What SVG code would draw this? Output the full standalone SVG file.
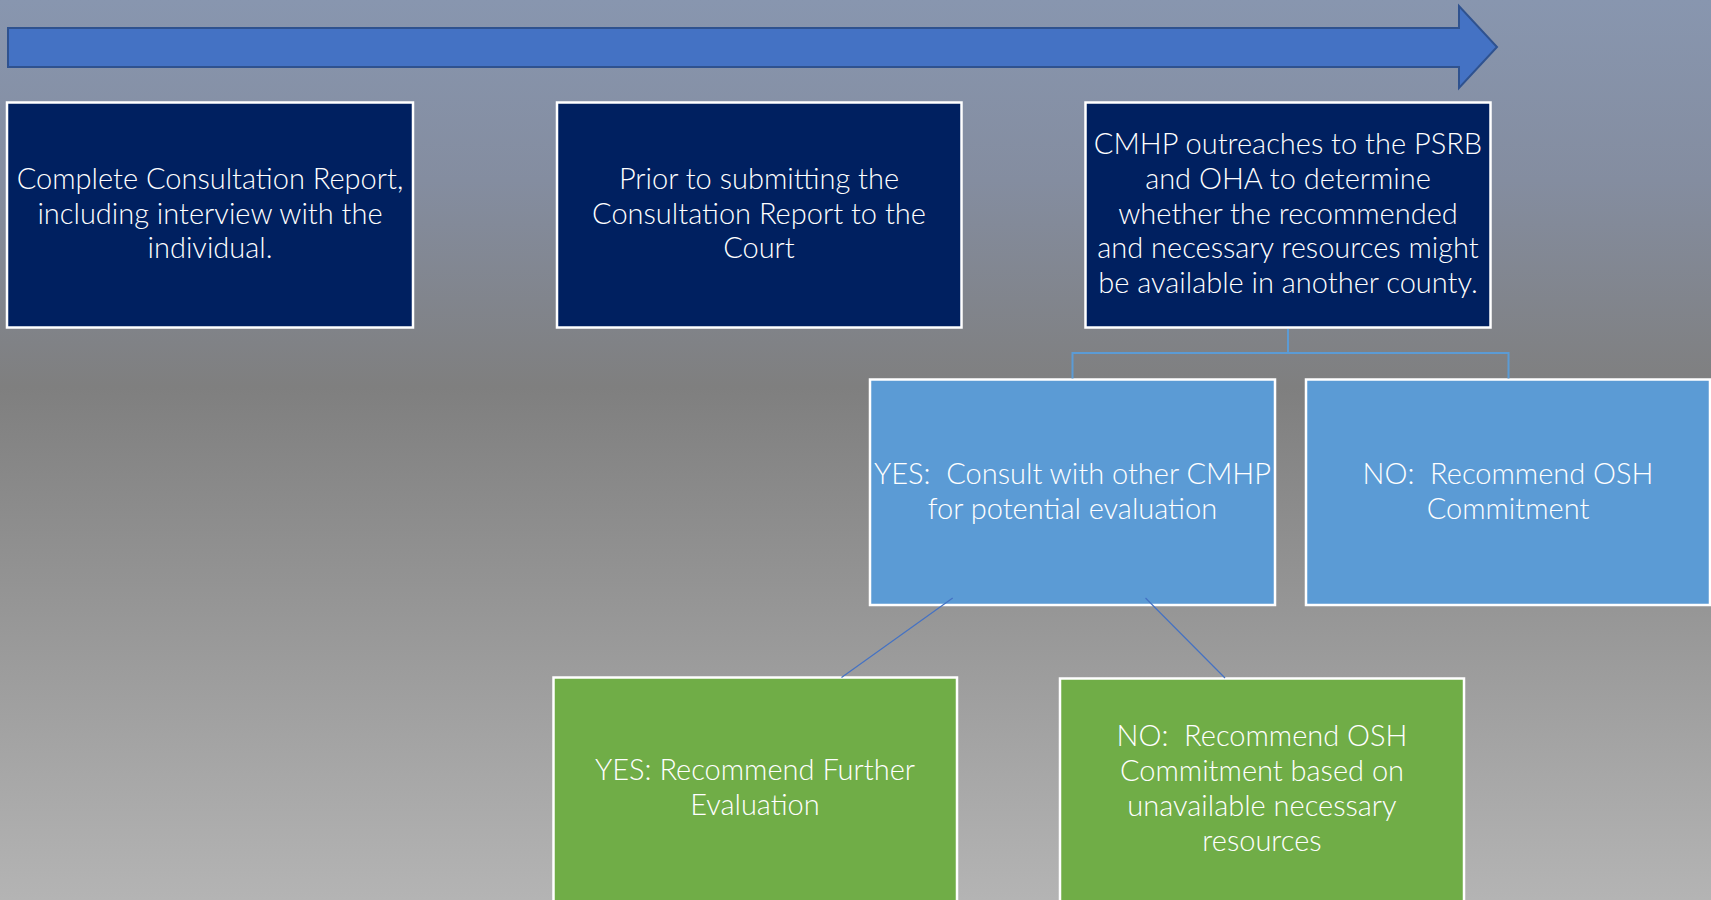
<svg xmlns="http://www.w3.org/2000/svg" width="1711" height="900" viewBox="0 0 1711 900">
<defs>
<linearGradient id="bg" x1="0" y1="0" x2="0" y2="1">
<stop offset="0" stop-color="#8896AF"/>
<stop offset="0.2" stop-color="#848DA0"/>
<stop offset="0.43" stop-color="#7F7F7F"/>
<stop offset="1" stop-color="#B4B4B4"/>
</linearGradient>
</defs>
<style>
.box{stroke:#FFFFFF;stroke-width:2.5}
.navy{fill:#002060}
.blue{fill:#5B9BD5}
.green{fill:#70AD47}
.t{font-family:Lato,"Liberation Sans",sans-serif;font-weight:300;font-size:29px;fill:#FFFFFF;text-anchor:middle;white-space:pre}
.tree{fill:none;stroke:#5B9BD5;stroke-width:2}
.diag{fill:none;stroke:#4472C4;stroke-width:1.2}
</style>
<rect x="0" y="0" width="1711" height="900" fill="url(#bg)"/>
<g id="timeline-arrow">
<polygon points="8,28 1459,28 1459,6 1497,47 1459,88 1459,67 8,67" fill="#4472C4" stroke="#2F528F" stroke-width="2" stroke-linejoin="miter"/>
</g>
<g id="node-consultation-report">
<rect class="box navy" x="7" y="102.5" width="406" height="225"/>
<text class="t" x="210" y="189">Complete Consultation Report,</text>
<text class="t" x="210" y="223.5">including interview with the</text>
<text class="t" x="210" y="258">individual.</text>
</g>
<g id="node-prior-submitting">
<rect class="box navy" x="557" y="102.5" width="404.5" height="225"/>
<text class="t" x="759" y="189">Prior to submitting the</text>
<text class="t" x="759" y="223.5">Consultation Report to the</text>
<text class="t" x="759" y="258">Court</text>
</g>
<g id="node-cmhp-outreach">
<rect class="box navy" x="1085.5" y="102.5" width="405" height="225"/>
<text class="t" x="1288" y="154">CMHP outreaches to the PSRB</text>
<text class="t" x="1288" y="189">and OHA to determine</text>
<text class="t" x="1288" y="223.5">whether the recommended</text>
<text class="t" x="1288" y="258">and necessary resources might</text>
<text class="t" x="1288" y="293">be available in another county.</text>
</g>
<g id="node-yes-consult">
<rect class="box blue" x="870" y="379.5" width="405" height="225.5"/>
<text class="t" x="1072.5" y="484">YES:  Consult with other CMHP</text>
<text class="t" x="1072.5" y="518.5">for potential evaluation</text>
</g>
<g id="node-no-osh">
<rect class="box blue" x="1306" y="379.5" width="404" height="225.5"/>
<text class="t" x="1508" y="484">NO:  Recommend OSH</text>
<text class="t" x="1508" y="518.5">Commitment</text>
</g>
<g id="node-yes-further">
<rect class="box green" x="553.5" y="677.5" width="403.5" height="226"/>
<text class="t" x="755" y="780">YES: Recommend Further</text>
<text class="t" x="755" y="815">Evaluation</text>
</g>
<g id="node-no-osh-unavailable">
<rect class="box green" x="1060" y="678.5" width="404" height="226"/>
<text class="t" x="1262" y="746">NO:  Recommend OSH</text>
<text class="t" x="1262" y="781">Commitment based on</text>
<text class="t" x="1262" y="816">unavailable necessary</text>
<text class="t" x="1262" y="851">resources</text>
</g>
<g id="connectors">
<polyline class="tree" points="1288,329 1288,353 1072.5,353 1072.5,378.5"/>
<polyline class="tree" points="1288,353 1508.5,353 1508.5,378.5"/>
<line class="diag" x1="952.7" y1="598" x2="841.5" y2="677.5"/>
<line class="diag" x1="1145.5" y1="598" x2="1225" y2="678"/>
</g>
</svg>
